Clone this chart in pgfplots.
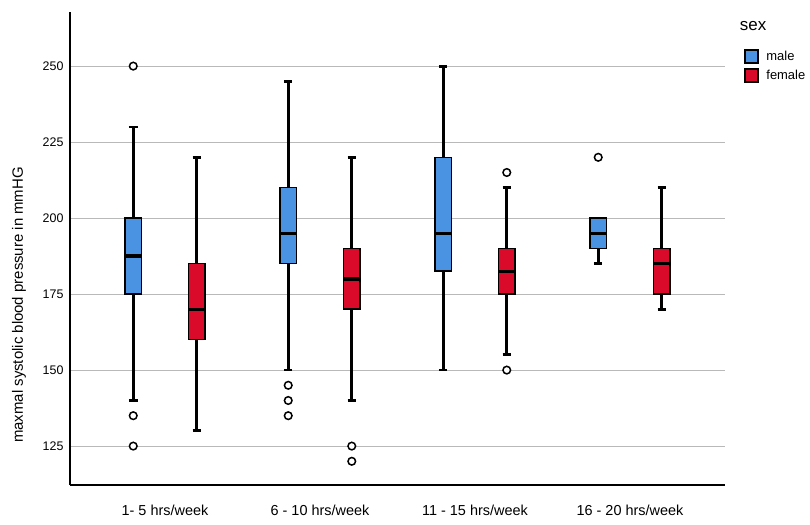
\documentclass[border=0pt]{standalone}
\usepackage{fontspec}
\setmainfont{Liberation Sans}
\usepackage{pgfplots}
\pgfplotsset{compat=1.18}
\usepgfplotslibrary{statistics}
\definecolor{maleblue}{RGB}{74,146,226}
\definecolor{femred}{RGB}{218,10,42}
\definecolor{gridgray}{RGB}{185,185,185}
\pgfplotsset{
  sqleg/.style={legend image code/.code={\draw[##1] (0bp,-6.5bp) rectangle (13bp,6.5bp); \path[draw=none,fill=none] (13bp,0bp) -- (19bp,0bp);}},
  bx/.style={forget plot, draw=black, line width=1.6bp, solid,
    mark=*, mark size=3.8bp, mark options={fill=white, draw=black, line width=1.5bp, solid}},
}
\begin{document}
\begin{tikzpicture}
\useasboundingbox (0,0) rectangle (810bp,525bp);
\begin{axis}[
  at={(70bp,40bp)}, anchor=south west,
  scale only axis, width=655bp, height=473bp,
  clip=false,
  xmin=-0.613, xmax=3.613,
  ymin=112.2, ymax=267.8,
  axis x line=bottom, axis y line=left,
  axis line style={-, line width=1.4bp, black},
  xtick={0,1,2,3},
  xticklabels={1- 5 hrs/week, 6 - 10 hrs/week, 11 - 15 hrs/week, 16 - 20 hrs/week},
  ytick={125,150,175,200,225,250},
  major tick length=0pt, tick style={draw=none},
  ymajorgrids, grid style={gridgray, line width=1.1bp},
  /pgf/number format/assume math mode=true,
  yticklabel style={font=\fontsize{12.5}{14}\selectfont, xshift=-3bp},
  xticklabel style={font=\fontsize{14.5}{17}\selectfont, yshift=-17bp},
  ylabel={maxmal systolic blood pressure in mmHG},
  ylabel style={font=\fontsize{15}{17}\selectfont, at={(axis description cs:-0.0779,0.3805)}, anchor=center},
  boxplot/draw direction=y,
  boxplot/box extend=0.105,
  boxplot/whisker extend=0.055,
  boxplot/every whisker/.style={line width=2.8bp},
  boxplot/every median/.style={line width=3.4bp},
  boxplot/every box/.style={line width=1.6bp},
  legend cell align=left,
  legend style={at={(axis description cs:1.0290,0.9230)}, anchor=north west,
    draw=none, fill=none, font=\fontsize{13}{15}\selectfont,
    row sep=3bp, inner sep=0pt, nodes={inner sep=2.5bp}},
]
\addlegendimage{sqleg, fill=maleblue, draw=black, line width=1.4bp}
\addlegendentry{male}
\addlegendimage{sqleg, fill=femred, draw=black, line width=1.4bp}
\addlegendentry{female}

% 1-5 hrs/week
\addplot[bx, fill=maleblue, boxplot prepared={draw position=-0.205, median=187.5,
  lower quartile=175, upper quartile=200, lower whisker=140, upper whisker=230}]
  table[row sep=\\, y index=0] {data\\ 250\\ 135\\ 125\\};
\addplot[bx, fill=femred, boxplot prepared={draw position=0.205, median=170,
  lower quartile=160, upper quartile=185, lower whisker=130, upper whisker=220}]
  coordinates {};
% 6-10 hrs/week
\addplot[bx, fill=maleblue, boxplot prepared={draw position=0.795, median=195,
  lower quartile=185, upper quartile=210, lower whisker=150, upper whisker=245}]
  table[row sep=\\, y index=0] {data\\ 145\\ 140\\ 135\\};
\addplot[bx, fill=femred, boxplot prepared={draw position=1.205, median=180,
  lower quartile=170, upper quartile=190, lower whisker=140, upper whisker=220}]
  table[row sep=\\, y index=0] {data\\ 125\\ 120\\};
% 11-15 hrs/week
\addplot[bx, fill=maleblue, boxplot prepared={draw position=1.795, median=195,
  lower quartile=182.5, upper quartile=220, lower whisker=150, upper whisker=250}]
  coordinates {};
\addplot[bx, fill=femred, boxplot prepared={draw position=2.205, median=182.5,
  lower quartile=175, upper quartile=190, lower whisker=155, upper whisker=210}]
  table[row sep=\\, y index=0] {data\\ 215\\ 150\\};
% 16-20 hrs/week
\addplot[bx, fill=maleblue, boxplot prepared={draw position=2.795, median=195,
  lower quartile=190, upper quartile=200, lower whisker=185, upper whisker=200}]
  table[row sep=\\, y index=0] {data\\ 220\\};
\addplot[bx, fill=femred, boxplot prepared={draw position=3.205, median=185,
  lower quartile=175, upper quartile=190, lower whisker=170, upper whisker=210}]
  coordinates {};

\node[font=\fontsize{17}{19}\selectfont, anchor=center] at (axis description cs:1.043,0.970) {sex};
\end{axis}
\end{tikzpicture}
\end{document}
